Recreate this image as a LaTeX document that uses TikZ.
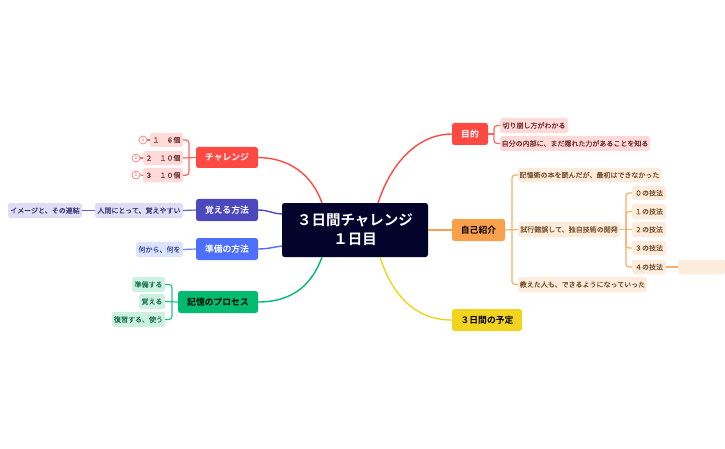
\documentclass[tikz,border=0pt]{standalone}
\usepackage{fontspec}
\setmainfont{Noto Sans CJK JP}
\newfontfamily\subfont[FakeBold=0.08]{Noto Sans CJK JP}
\newfontfamily\topfont{Noto Sans CJK JP Bold}
\definecolor{cRed}{HTML}{FF4A43}
\definecolor{cInd}{HTML}{4C48BE}
\definecolor{cBlu}{HTML}{4D6FFB}
\definecolor{cGrn}{HTML}{00BA6F}
\definecolor{cOrg}{HTML}{F8A04C}
\definecolor{cYel}{HTML}{F2D420}
\definecolor{cNavy}{HTML}{03032B}
\definecolor{sRed}{HTML}{FFDAD8}
\definecolor{sInd}{HTML}{DEDDF3}
\definecolor{sBlu}{HTML}{DCE3FE}
\definecolor{sGrn}{HTML}{CCF1E2}
\definecolor{sOrg}{HTML}{FDECDC}
\definecolor{tRed}{HTML}{6E2E2C}
\definecolor{tInd}{HTML}{3A387C}
\definecolor{tBlu}{HTML}{3A4A98}
\definecolor{tGrn}{HTML}{1F7552}
\definecolor{tOrg}{HTML}{75502E}
\tikzset{
  x=1pt,y=-1pt,
  box/.style={inner sep=0pt,rounded corners=2.5pt,align=center},
  topic/.style={box,font=\topfont\fontsize{8.8}{10}\selectfont},
  sub/.style={box,font=\subfont\fontsize{7}{8}\selectfont},
  link/.style={line width=1.2pt,rounded corners=3pt},
  curve/.style={line width=1.4pt},
  mark1/.style={circle,draw=cRed!70,fill=white,line width=.7pt,inner sep=0pt,minimum size=8pt,text=cRed,font=\fontsize{5}{5}\selectfont},
}
\newcommand{\bx}[7]{% style,name,x1,y1,x2,y2,text
  \node[#1,minimum width=#5pt-#3pt,minimum height=#6pt-#4pt] (#2) at ({(#3+#5)/2},{(#4+#6)/2}) {#7};}
\begin{document}
\begin{tikzpicture}
\useasboundingbox (0,0) rectangle (725,449);
\fill[white] (0,0) rectangle (725,449);
% centre
\bx{box,fill=cNavy,text=white,font=\topfont\fontsize{14.5}{19}\selectfont}{root}{282}{203}{428}{257}{３日間チャレンジ\\１日目}
% left topics
\bx{topic,fill=cRed,text=white}{chal}{196}{147}{258}{168}{チャレンジ}
\bx{topic,fill=cInd,text=white}{obo}{196}{199}{258}{221}{覚える方法}
\bx{topic,fill=cBlu,text=white}{jun}{196}{238}{258}{260}{準備の方法}
\bx{topic,fill=cGrn,text=black}{kio}{178}{291}{258}{313}{記憶のプロセス}
% right topics
\bx{topic,fill=cRed,text=white}{mok}{452}{123}{488}{145}{目的}
\bx{topic,fill=cOrg,text=black}{jik}{452}{219}{505}{241}{自己紹介}
\bx{topic,fill=cYel,text=black}{yot}{452}{309}{522}{331}{３日間の予定}
% left subs
\bx{sub,fill=sRed,text=tRed}{c1}{150}{133}{183}{147}{１　６個}
\bx{sub,fill=sRed,text=tRed}{c2}{143}{151}{183}{165}{２　１０個}
\bx{sub,fill=sRed,text=tRed}{c3}{143}{168}{183}{182.5}{３　１０個}
\node[mark1] (m1) at (143,140) {1};
\node[mark1] (m2) at (136,158) {1};
\node[mark1] (m3) at (136,175) {1};
\bx{sub,fill=sInd,text=tInd}{o1}{95}{203}{183}{218}{人間にとって、覚えやすい}
\bx{sub,fill=sInd,text=tInd}{o2}{8}{203}{82}{218}{イメージと、その連結}
\bx{sub,fill=sBlu,text=tBlu}{j1}{136}{242}{183}{257}{何から、何を}
\bx{sub,fill=sGrn,text=tGrn}{k1}{132}{277}{165}{292}{準備する}
\bx{sub,fill=sGrn,text=tGrn}{k2}{139}{294}{165}{309}{覚える}
\bx{sub,fill=sGrn,text=tGrn}{k3}{112}{312}{165}{327}{復習する、使う}
% right subs
\bx{sub,fill=sRed,text=tRed}{m1a}{500}{118}{568}{133}{切り崩し方がわかる}
\bx{sub,fill=sRed,text=tRed}{m2a}{500}{136}{650}{151}{自分の内部に、まだ隠れた力があることを知る}
\bx{sub,fill=sOrg,text=tOrg}{s1}{518}{168}{661}{182}{記憶術の本を読んだが、最初はできなかった}
\bx{sub,fill=sOrg,text=tOrg}{s2}{518}{222}{620}{237}{試行錯誤して、独自技術の開発}
\bx{sub,fill=sOrg,text=tOrg}{s3}{518}{277}{647}{292}{教えた人も、できるようになっていった}
\bx{sub,fill=sOrg,text=tOrg}{g0}{632}{186}{666}{200}{０の技法}
\bx{sub,fill=sOrg,text=tOrg}{g1}{632}{204}{666}{219}{１の技法}
\bx{sub,fill=sOrg,text=tOrg}{g2}{632}{222}{666}{237}{２の技法}
\bx{sub,fill=sOrg,text=tOrg}{g3}{632}{241}{666}{255}{３の技法}
\bx{sub,fill=sOrg,text=tOrg}{g4}{632}{260}{666}{274}{４の技法}
\bx{sub,fill=sOrg}{g5}{678}{260}{725}{274}{}
% main curves
\coordinate (rt1) at (322,203);
\coordinate (rt2) at (378,203);
\coordinate (rb1) at (322,257);
\coordinate (rb2) at (380,257);
\draw[curve,cRed] (chal.east) .. controls (290,158) and (312,175) .. (rt1);
\draw[curve,cInd] (obo.east) .. controls (268,210) and (274,214) .. (root.west |- 0,214);
\draw[curve,cBlu] (jun.east) .. controls (268,249) and (274,247) .. (root.west |- 0,246);
\draw[curve,cGrn] (kio.east) .. controls (292,302) and (312,285) .. (rb1);
\draw[curve,cRed] (rt2) .. controls (392,160) and (420,134) .. (mok.west);
\draw[curve,cOrg] (root.east |- jik.west) -- (jik.west);
\draw[curve,cYel] (rb2) .. controls (392,295) and (415,320) .. (yot.west);
% branches
\draw[link,cRed!85] (chal.west) -- (c2.east);
\draw[link,cRed!85] (c1.east) -| (189,158) |- (c3.east);
\draw[link,cRed!85] (m1.east) -- (c1.west);
\draw[link,cRed!85] (m2.east) -- (c2.west);
\draw[link,cRed!85] (m3.east) -- (c3.west);
\draw[link,cInd!85] (obo.west) -- (o1.east);
\draw[link,cInd!85] (o1.west) -- (o2.east);
\draw[link,cBlu!85] (jun.west) -- (j1.east);
\draw[link,cGrn!85] (kio.west) -- (k2.east);
\draw[link,cGrn!85] (k1.east) -| (172,302) |- (k3.east);
\draw[link,cRed!85] (mok.east) -- (494,134);
\draw[link,cRed!85] (m1a.west) -| (494,134) |- (m2a.west);
\draw[link,cOrg!85] (jik.east) -- (s2.west);
\draw[link,cOrg!85] (s1.west) -| (512,230) |- (s3.west);
\draw[link,cOrg!85] (s2.east) -- (g2.west);
\draw[link,cOrg!85] (g0.west) -| (626,230) |- (g4.west);
\draw[link,cOrg!85] (g1.west) -| (626,230);
\draw[link,cOrg!85] (g3.west) -| (626,230);
\draw[link,cOrg!85] (g4.east) -- (g5.west);
\end{tikzpicture}
\end{document}
